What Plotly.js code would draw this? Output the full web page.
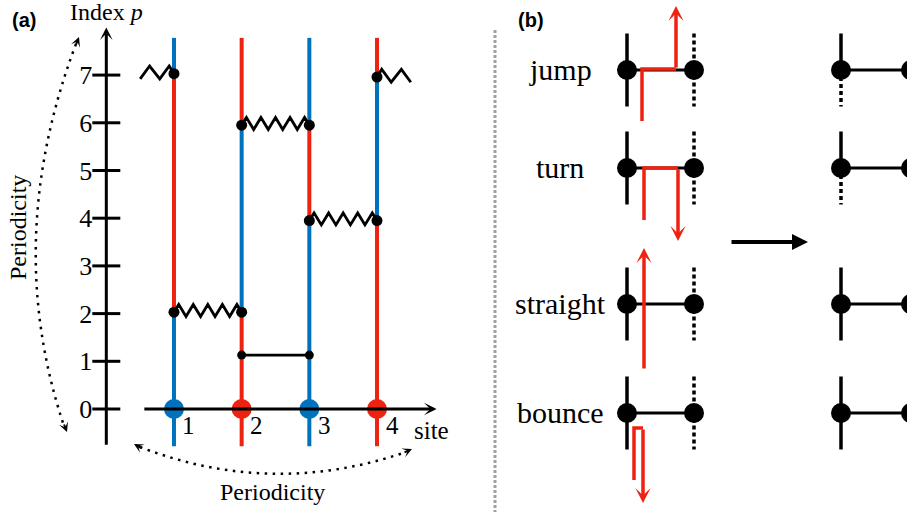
<!DOCTYPE html>
<html>
<head>
<meta charset="utf-8">
<script src="https://cdn.plot.ly/plotly-3.0.1.min.js"></script>
<style>html,body{margin:0;padding:0;background:#fff}#chart{width:907px;height:515px}</style>
</head>
<body>
<div id="chart"></div>
<script>
// ---------- Panel (a) data ----------
const sites = [1, 2, 3, 4];
const siteLabels = ['1', '2', '3', '4'];
const startColor = ['blue', 'red', 'blue', 'red'];     // colour of each site's line at p = 0
const pTicks = [0, 1, 2, 3, 4, 5, 6, 7];
const pTickLabels = ['0', '1', '2', '3', '4', '5', '6', '7'];
// bonds between neighbouring sites (last one wraps round: site 4 -> site 1)
const bondType = ['zigzag', 'straight', 'zigzag', 'zigzag', 'zigzag'];
const bondSiteA = [1, 2, 2, 3, 4];
const bondSiteB = [2, 3, 3, 4, 1];
const bondPA = [2.03, 1.13, 5.95, 3.95, 6.96];
const bondPB = [2.03, 1.13, 5.95, 3.95, 7.03];
// ---------- Panel (b) data ----------
const moves = ['jump', 'turn', 'straight', 'bounce'];
const resultLeftBelow = ['dot', 'dot', 'solid', 'solid'];   // left site line below the dot after the move
const resultRightBelow = ['dot', 'dot', 'dot', 'dot'];
const resultRightAbove = ['solid', 'solid', 'dot', 'dot'];

// ---------- styles ----------
const COL = {blue: '#0072bd', red: '#ee2211'};
const SERIF = "'Liberation Serif', 'Times New Roman', serif";
const SANS = "'Liberation Sans', Arial, sans-serif";
const W = 907, H = 515;
const xr = [-1.571, 11.832];
const yr = [-2.222, 8.574];
const pLow = -0.78, pHigh = 7.78;
const axisTop = 8.0, xAxisStart = 0.54, xAxisEnd = 4.88;

const traces = [];
const shapes = [];
const annotations = [];

// ---------- site world lines, coloured segments ----------
const events = [];
bondType.forEach((t, i) => events.push({t, a: bondSiteA[i], b: bondSiteB[i], pa: bondPA[i], pb: bondPB[i]}));
events.sort((u, v) => Math.min(u.pa, u.pb) - Math.min(v.pa, v.pb));
const cur = {}; const lastP = {}; const segs = [];
sites.forEach((s, i) => { cur[s] = startColor[i]; lastP[s] = pLow; });
events.forEach(e => {
  if (e.t !== 'zigzag') return;
  segs.push({s: e.a, p0: lastP[e.a], p1: e.pa, c: cur[e.a]});
  segs.push({s: e.b, p0: lastP[e.b], p1: e.pb, c: cur[e.b]});
  lastP[e.a] = e.pa; lastP[e.b] = e.pb;
  const tmp = cur[e.a]; cur[e.a] = cur[e.b]; cur[e.b] = tmp;
});
sites.forEach(s => segs.push({s, p0: lastP[s], p1: pHigh, c: cur[s]}));
segs.forEach(g => traces.push({
  x: [g.s, g.s], y: [g.p0, g.p1], mode: 'lines', hoverinfo: 'skip',
  line: {color: COL[g.c], width: 4}
}));

// ---------- bonds ----------
const up = 0.16, dn = -0.09;
function zigzagFull(x0, x1, p) {
  const xs = [x0], ys = [p];
  const fr = [0.07, 0.178, 0.285, 0.393, 0.5, 0.607, 0.715, 0.822, 0.93];
  fr.forEach((f, k) => { xs.push(x0 + f * (x1 - x0)); ys.push(p + (k % 2 === 0 ? up : dn)); });
  xs.push(x1); ys.push(p);
  return {xs, ys};
}
function zigzagStub(x0, dir, p) {
  const xs = [x0], ys = [p];
  [0.07, 0.21, 0.36, 0.5].forEach((f, k) => { xs.push(x0 + dir * f); ys.push(p + (k % 2 === 0 ? up : dn - 0.02)); });
  return {xs, ys};
}
const dotX = [], dotY = [], dotS = [];
bondType.forEach((t, i) => {
  const a = bondSiteA[i], b = bondSiteB[i];
  if (t === 'straight') {
    traces.push({x: [a, b], y: [bondPA[i], bondPB[i]], mode: 'lines', hoverinfo: 'skip', line: {color: '#000', width: 2.6}});
    dotX.push(a, b); dotY.push(bondPA[i], bondPB[i]); dotS.push(9, 9);
  } else if (b > a) {
    const z = zigzagFull(a, b, bondPA[i]);
    traces.push({x: z.xs, y: z.ys, mode: 'lines', hoverinfo: 'skip', line: {color: '#000', width: 2.8}});
    dotX.push(a, b); dotY.push(bondPA[i], bondPB[i]); dotS.push(11, 11);
  } else {
    const z1 = zigzagStub(a, 1, bondPA[i]);
    const z2 = zigzagStub(b, -1, bondPB[i]);
    [z1, z2].forEach(z => traces.push({x: z.xs, y: z.ys, mode: 'lines', hoverinfo: 'skip', line: {color: '#000', width: 2.8}}));
    dotX.push(a, b); dotY.push(bondPA[i], bondPB[i]); dotS.push(11, 11);
  }
});
traces.push({x: dotX, y: dotY, mode: 'markers', hoverinfo: 'skip',
  marker: {color: '#000', size: dotS, opacity: 1, line: {width: 0}}});

// ---------- axes drawn as arrows ----------
function arrow(x, y, ax, ay, opt) {
  annotations.push(Object.assign({
    x, y, ax, ay, xref: 'x', yref: 'y', axref: 'x', ayref: 'y', text: '', showarrow: true,
    arrowhead: 3, arrowsize: 0.7, arrowwidth: 3, arrowcolor: '#000', standoff: 0, startstandoff: 0
  }, opt || {}));
}
arrow(0, axisTop, 0, pLow);
arrow(xAxisEnd, 0, xAxisStart, 0);
traces.push({x: pTicks.map(() => 0), y: pTicks, mode: 'markers', hoverinfo: 'skip',
  marker: {symbol: 'line-ew', size: 20, line: {color: '#000', width: 3}}});
traces.push({x: sites, y: sites.map(() => 0), mode: 'markers', hoverinfo: 'skip',
  marker: {color: startColor.map(c => COL[c]), size: 20, opacity: 1, line: {width: 0}}});

// labels panel (a)
sites.forEach((s, i) => annotations.push({x: s, y: 0, xref: 'x', yref: 'y', text: siteLabels[i], showarrow: false,
  xshift: 15, yshift: -16, font: {family: SERIF, size: 25, color: '#000'}}));
annotations.push({x: xAxisEnd, y: 0, xref: 'x', yref: 'y', text: 'site', showarrow: false, xanchor: 'left',
  xshift: -25, yshift: -21, font: {family: SERIF, size: 25, color: '#000'}});
annotations.push({x: 0, y: axisTop, xref: 'x', yref: 'y', text: 'Index <i>p</i>', showarrow: false,
  yshift: 15, font: {family: SERIF, size: 24, color: '#000'}});

// ---------- pixel-space overlay (x2/y2) ----------
function px(x, y, ax, ay, opt) {
  annotations.push(Object.assign({
    x, y, ax, ay, xref: 'x2', yref: 'y2', axref: 'x2', ayref: 'y2', text: '', showarrow: true,
    arrowhead: 3, arrowsize: 0.7, arrowwidth: 3, arrowcolor: '#000', standoff: 0, startstandoff: 0
  }, opt || {}));
}
function ptext(x, y, text, opt) {
  annotations.push(Object.assign({x, y, xref: 'x2', yref: 'y2', text, showarrow: false,
    font: {family: SERIF, size: 24, color: '#000'}}, opt || {}));
}
function pline(xs, ys, color, width, dash) {
  traces.push({x: xs, y: ys, xaxis: 'x2', yaxis: 'y2', mode: 'lines', hoverinfo: 'skip',
    line: {color, width, dash: dash || 'solid'}});
}

// periodicity curves
const dotDash = '2.5px,5.5px';
shapes.push({type: 'path', xref: 'x2', yref: 'y2', path: 'M 76 44 Q 2 240 64 426', line: {color: '#000', width: 2.5, dash: dotDash}});
shapes.push({type: 'path', xref: 'x2', yref: 'y2', path: 'M 140 447 Q 272 498 406 452', line: {color: '#000', width: 2.5, dash: dotDash}});
px(79, 37, 75.5, 46, {arrowwidth: 2, arrowsize: 0.8});
px(67, 432, 63.5, 423, {arrowwidth: 2, arrowsize: 0.8});
px(134, 444, 143, 449, {arrowwidth: 2, arrowsize: 0.8});
px(412, 449, 403, 453, {arrowwidth: 2, arrowsize: 0.8});
ptext(18, 228, 'Periodicity', {textangle: -90});
ptext(272, 492, 'Periodicity');
ptext(24, 20, '<b>(a)</b>', {font: {family: SANS, size: 20, color: '#000'}});
ptext(531, 20, '<b>(b)</b>', {font: {family: SANS, size: 20, color: '#000'}});

// separator
pline([495, 495], [30, 512], '#a0a0a0', 3, '3px,2px');

// ---------- panel (b) ----------
const rowY = [70, 168, 304, 413];
const lx = 627, rx = 694, lx2 = 841, rx2 = 911, half = 36.5;
const vDash = '4px,3px';
const bDotX = [], bDotY = [];
moves.forEach((m, i) => {
  const y = rowY[i];
  ptext(560, y - 1, m, {font: {family: SERIF, size: 30, color: '#000'}});
  pline([lx, lx], [y - half, y + half], '#000', 3.5);
  pline([rx, rx], [y - half, y + half], '#000', 3.5, vDash);
  pline([lx, rx], [y, y], '#000', 3);
  pline([lx2, lx2], [y - half, y], '#000', 3.5);
  pline([lx2, lx2], [y, y + half], '#000', 3.5, resultLeftBelow[i] === 'dot' ? vDash : 'solid');
  pline([rx2, rx2], [y - half, y], '#000', 3.5, resultRightAbove[i] === 'dot' ? vDash : 'solid');
  pline([rx2, rx2], [y, y + half], '#000', 3.5, resultRightBelow[i] === 'dot' ? vDash : 'solid');
  pline([lx2, rx2], [y, y], '#000', 3);
  bDotX.push(lx, rx, lx2, rx2); bDotY.push(y, y, y, y);
});
traces.push({x: bDotX, y: bDotY, xaxis: 'x2', yaxis: 'y2', mode: 'markers', hoverinfo: 'skip',
  marker: {color: '#000', size: 20, opacity: 1, line: {width: 0}}});

// red paths of the moves
const RED = COL.red, RW = 3.5;
const redArrow = {arrowcolor: RED, arrowwidth: RW, arrowsize: 0.72};
pline([642, 642, 676], [121, 69, 69], RED, RW);
px(676, 6, 676, 69, redArrow);
pline([644, 644, 678], [220, 168, 168], RED, RW);
px(678, 241, 678, 168, redArrow);
px(644, 248, 644, 370, redArrow);
pline([634, 634, 643], [480, 428, 428], RED, RW);
px(643, 503, 643, 428, redArrow);
px(808, 242, 730, 242, {arrowhead: 2, arrowwidth: 4, arrowsize: 0.8});

const layout = {
  width: W, height: H, margin: {l: 0, r: 0, t: 0, b: 0, pad: 0},
  paper_bgcolor: '#fff', plot_bgcolor: 'rgba(0,0,0,0)', showlegend: false,
  xaxis: {domain: [0, 1], range: xr, visible: false, fixedrange: true},
  yaxis: {domain: [0, 1], range: yr, anchor: 'free', position: (0 - xr[0]) / (xr[1] - xr[0]),
    showgrid: false, zeroline: false, showline: false, ticks: '', tickvals: pTicks, ticktext: pTickLabels,
    ticklabelstandoff: 14, tickfont: {family: SERIF, size: 26, color: '#000'}, fixedrange: true},
  xaxis2: {domain: [0, 1], range: [0, W], visible: false, anchor: 'y2', fixedrange: true},
  yaxis2: {domain: [0, 1], range: [H, 0], visible: false, anchor: 'x2', fixedrange: true},
  shapes, annotations
};
Plotly.newPlot('chart', traces, layout, {staticPlot: true, displayModeBar: false});
</script>
</body>
</html>
